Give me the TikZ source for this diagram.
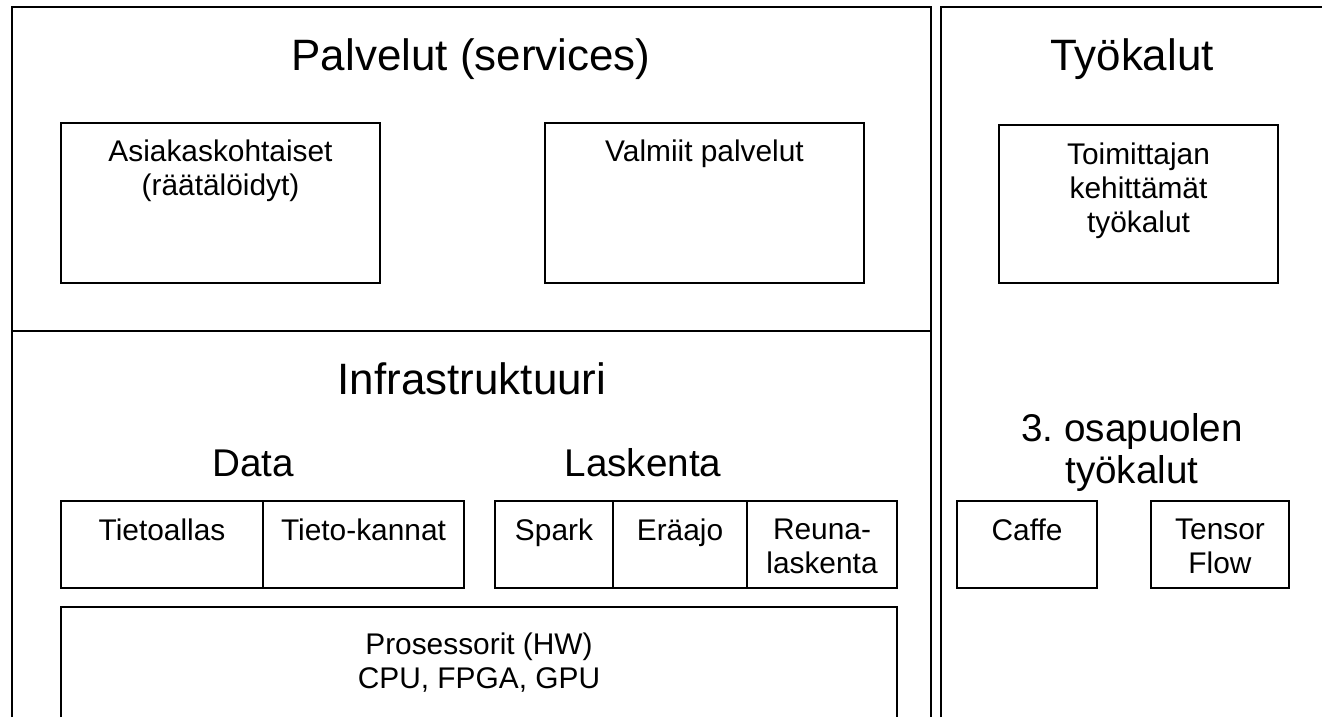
\documentclass[tikz,border=0pt]{standalone}
\usepackage{fontspec}
\setmainfont{Liberation Sans}
\usetikzlibrary{positioning,fit}
\tikzset{
  panel/.style={line width=1.4pt},
  box/.style={draw, line width=0.8pt, inner sep=0pt},
  boxtext/.style={align=center, inner sep=0pt, font=\fontsize{17}{19.5}\selectfont},
  bigtitle/.style={anchor=base, inner sep=0pt, font=\fontsize{25}{30}\selectfont},
  subtitle/.style={align=center, inner sep=0pt, font=\fontsize{22}{24}\selectfont},
}

\begin{document}
\begin{tikzpicture}[x=0.02cm, y=-0.02cm]
  \useasboundingbox (0,0) rectangle (1322,717);

  %%%%% PANELS %%%%%
  \draw[panel] (12,717) -- (12,7) -- (931,7) -- (931,717);
  \draw[panel] (12,331) -- (931,331);
  \draw[panel] (941,717) -- (941,7) -- (1322,7);

  \node[bigtitle] (palvelut) at (471,70) {Palvelut (services)};
  \node[bigtitle] (tyokalut) at (1132,70) {Työkalut};
  \node[bigtitle] (infra) at (472,394) {Infrastruktuuri};
  \node[subtitle, anchor=base] (data) at (253,476) {Data};
  \node[subtitle, anchor=base] (laskenta) at (643,476) {Laskenta};
  \node[subtitle, anchor=north] (osapuoli) at (1132,413) {3.\ osapuolen\\työkalut};

  %%%%% SERVICES %%%%%
  \node[box, fit={(61,123) (380,283)}] (asiakas) {};
  \node[boxtext, below=0.34cm of asiakas.north] (asiakasT) {Asiakaskohtaiset\\(räätälöidyt)};
  \node[box, fit={(545,123) (864,283)}] (valmiit) {};
  \node[boxtext, below=0.34cm of valmiit.north] (valmiitT) {Valmiit palvelut};

  %%%%% TOOLS %%%%%
  \node[box, fit={(999,125) (1278,283)}] (toimittaja) {};
  \node[boxtext, below=0.36cm of toimittaja.north] (toimittajaT) {Toimittajan\\kehittämät\\työkalut};
  \node[box, fit={(957,501) (1097,588)}] (caffe) {};
  \node[boxtext, below=0.36cm of caffe.north] (caffeT) {Caffe};
  \node[box, fit={(1151,501) (1289,588)}] (tensor) {};
  \node[boxtext, below=0.36cm of tensor.north] (tensorT) {Tensor\\Flow};

  %%%%% INFRASTRUCTURE %%%%%
  \node[box, fit={(61,501) (263,588)}] (allas) {};
  \node[boxtext, below=0.36cm of allas.north] (allasT) {Tietoallas};
  \node[box, fit={(263,501) (464,588)}] (kannat) {};
  \node[boxtext, below=0.36cm of kannat.north] (kannatT) {Tieto-kannat};

  \node[box, fit={(495,501) (613,588)}] (spark) {};
  \node[boxtext, below=0.36cm of spark.north] (sparkT) {Spark};
  \node[box, fit={(613,501) (747,588)}] (eraajo) {};
  \node[boxtext, below=0.36cm of eraajo.north] (eraajoT) {Eräajo};
  \node[box, fit={(747,501) (897,588)}] (reuna) {};
  \node[boxtext, below=0.36cm of reuna.north] (reunaT) {Reuna-\\laskenta};

  \draw[line width=0.8pt] (61,717) -- (61,607) -- (897,607) -- (897,717);
  \node[boxtext, anchor=north] (prosessoritT) at (479,632) {Prosessorit (HW)\\CPU, FPGA, GPU};
\end{tikzpicture}
\end{document}
